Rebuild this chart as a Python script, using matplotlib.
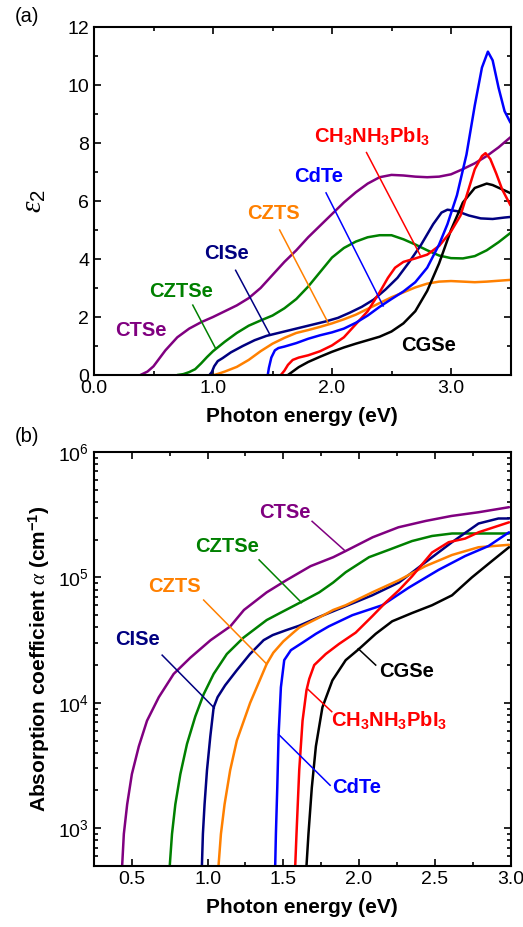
import matplotlib
matplotlib.use("Agg")
import matplotlib.pyplot as plt
from matplotlib.ticker import MultipleLocator, FormatStrFormatter, LogLocator, NullFormatter

plt.rcParams['font.family'] = ['Liberation Sans', 'DejaVu Sans']
plt.rcParams['mathtext.fontset'] = 'custom'
plt.rcParams['mathtext.rm'] = 'Liberation Sans'
plt.rcParams['mathtext.it'] = 'Liberation Serif:italic'
plt.rcParams['mathtext.bf'] = 'Liberation Sans:bold'
plt.rcParams['mathtext.default'] = 'regular'

# ---- (a) imaginary part of the dielectric function, eps2 vs photon energy (eV)
ctse_E = [0.39, 0.45, 0.5, 0.6, 0.7, 0.8, 0.9, 1.0, 1.1, 1.2, 1.3, 1.4, 1.5, 1.6, 1.7, 1.8, 1.9, 2.0,
          2.1, 2.2, 2.3, 2.4, 2.5, 2.6, 2.7, 2.8, 2.9, 3.0, 3.1, 3.2, 3.3, 3.4, 3.5]
ctse_eps = [0.0, 0.12, 0.3, 0.85, 1.3, 1.6, 1.82, 2.0, 2.2, 2.4, 2.65, 3.0, 3.45, 3.9, 4.3, 4.75, 5.15, 5.55,
            5.95, 6.3, 6.6, 6.82, 6.9, 6.88, 6.84, 6.82, 6.84, 6.92, 7.1, 7.3, 7.55, 7.85, 8.2]

cztse_E = [0.70, 0.75, 0.8, 0.85, 0.9, 0.95, 1.0, 1.1, 1.2, 1.3, 1.4, 1.5, 1.6, 1.7, 1.8, 1.9, 2.0,
           2.1, 2.2, 2.3, 2.4, 2.5, 2.6, 2.7, 2.8, 2.9, 3.0, 3.1, 3.2, 3.3, 3.4, 3.5]
cztse_eps = [0.0, 0.03, 0.1, 0.2, 0.4, 0.62, 0.82, 1.15, 1.45, 1.7, 1.88, 2.05, 2.3, 2.62, 3.05, 3.55, 4.05,
             4.38, 4.6, 4.75, 4.82, 4.82, 4.68, 4.5, 4.3, 4.12, 4.03, 4.02, 4.1, 4.3, 4.58, 4.9]

cise_E = [0.97, 0.99, 1.01, 1.04, 1.08, 1.15, 1.25, 1.35, 1.45, 1.55, 1.65, 1.75, 1.85, 1.95, 2.05, 2.15,
          2.25, 2.35, 2.45, 2.55, 2.65, 2.75, 2.85, 2.92, 2.97, 3.05, 3.15, 3.25, 3.35, 3.45, 3.5]
cise_eps = [0.0, 0.1, 0.3, 0.48, 0.58, 0.78, 1.0, 1.2, 1.35, 1.45, 1.55, 1.65, 1.75, 1.85, 1.97, 2.15,
            2.35, 2.6, 2.95, 3.35, 3.9, 4.5, 5.2, 5.6, 5.7, 5.65, 5.5, 5.4, 5.38, 5.43, 5.45]

czts_E = [1.01, 1.05, 1.1, 1.2, 1.3, 1.4, 1.5, 1.6, 1.7, 1.8, 1.9, 2.0, 2.1, 2.2, 2.3, 2.4, 2.5, 2.6,
          2.7, 2.8, 2.9, 3.0, 3.1, 3.2, 3.3, 3.4, 3.5]
czts_eps = [0.0, 0.05, 0.12, 0.28, 0.52, 0.82, 1.08, 1.28, 1.45, 1.55, 1.66, 1.78, 1.92, 2.08, 2.28, 2.48,
            2.68, 2.85, 3.02, 3.15, 3.22, 3.24, 3.22, 3.2, 3.22, 3.25, 3.28]

cdte_E = [1.46, 1.47, 1.49, 1.52, 1.55, 1.6, 1.7, 1.8, 1.9, 2.0, 2.1, 2.2, 2.3, 2.4, 2.5, 2.6, 2.7, 2.8,
          2.9, 2.97, 3.05, 3.13, 3.2, 3.26, 3.31, 3.35, 3.4, 3.45, 3.5]
cdte_eps = [0.0, 0.25, 0.6, 0.85, 0.93, 0.98, 1.1, 1.25, 1.37, 1.47, 1.6, 1.8, 2.05, 2.35, 2.62, 2.88, 3.2,
            3.7, 4.5, 5.2, 6.2, 7.6, 9.3, 10.6, 11.15, 10.85, 9.9, 9.1, 8.7]

mapi_E = [1.57, 1.6, 1.63, 1.67, 1.72, 1.8, 1.9, 2.0, 2.1, 2.2, 2.3, 2.4, 2.47, 2.53, 2.6, 2.7, 2.8, 2.9,
          3.0, 3.08, 3.14, 3.2, 3.26, 3.29, 3.33, 3.38, 3.43, 3.5]
mapi_eps = [0.0, 0.15, 0.35, 0.52, 0.6, 0.68, 0.82, 1.02, 1.3, 1.75, 2.2, 2.85, 3.35, 3.7, 3.9, 4.02, 4.15,
            4.45, 4.95, 5.5, 6.3, 7.1, 7.55, 7.65, 7.45, 6.95, 6.4, 5.85]

cgse_E = [1.63, 1.67, 1.72, 1.8, 1.9, 2.0, 2.1, 2.2, 2.3, 2.4, 2.5, 2.6, 2.7, 2.8, 2.9, 3.0, 3.1, 3.2,
          3.3, 3.35, 3.42, 3.5]
cgse_eps = [0.0, 0.12, 0.27, 0.45, 0.63, 0.8, 0.95, 1.08, 1.2, 1.32, 1.5, 1.78, 2.2, 2.9, 3.85, 5.0, 5.95,
            6.45, 6.6, 6.55, 6.42, 6.27]

# ---- (b) absorption coefficient (cm^-1) vs photon energy (eV)
ctse_aE = [0.435, 0.447, 0.469, 0.50, 0.546, 0.60, 0.678, 0.776, 0.886, 1.02, 1.15, 1.24, 1.39, 1.52,
           1.68, 1.83, 1.91, 2.09, 2.26, 2.44, 2.61, 2.79, 2.99]
ctse_alpha = [4.8e2, 9.0e2, 1.55e3, 2.7e3, 4.5e3, 7.2e3, 1.11e4, 1.70e4, 2.29e4, 3.16e4, 4.07e4, 5.5e4,
              7.6e4, 9.5e4, 1.23e5, 1.45e5, 1.62e5, 2.09e5, 2.51e5, 2.82e5, 3.09e5, 3.31e5, 3.63e5]

cztse_aE = [0.749, 0.765, 0.787, 0.82, 0.864, 0.919, 0.974, 1.04, 1.127, 1.237, 1.39, 1.478, 1.632,
            1.737, 1.829, 1.912, 2.066, 2.197, 2.35, 2.482, 2.614, 2.79, 2.99]
cztse_alpha = [4.8e2, 9.0e2, 1.55e3, 2.7e3, 4.7e3, 7.8e3, 1.17e4, 1.70e4, 2.45e4, 3.31e4, 4.57e4, 5.2e4,
               6.5e4, 7.6e4, 9.1e4, 1.10e5, 1.45e5, 1.66e5, 1.95e5, 2.14e5, 2.24e5, 2.24e5, 2.24e5]

cise_aE = [0.962, 0.969, 0.98, 0.996, 1.018, 1.04, 1.066, 1.116, 1.193, 1.28, 1.37, 1.43, 1.52, 1.605,
           1.737, 1.912, 2.087, 2.263, 2.438, 2.614, 2.789, 2.92, 2.99]
cise_alpha = [4.8e2, 9.0e2, 1.55e3, 2.9e3, 5.4e3, 9.2e3, 1.11e4, 1.38e4, 1.82e4, 2.45e4, 3.16e4, 3.47e4,
              3.8e4, 4.12e4, 4.84e4, 5.9e4, 7.2e4, 9.1e4, 1.32e5, 1.91e5, 2.69e5, 2.95e5, 2.95e5]

czts_aE = [1.071, 1.088, 1.112, 1.149, 1.193, 1.281, 1.39, 1.434, 1.50, 1.566, 1.605, 1.737, 1.829,
           1.912, 2.087, 2.263, 2.438, 2.614, 2.789, 2.99]
czts_alpha = [4.8e2, 9.0e2, 1.55e3, 2.9e3, 5.0e3, 1.0e4, 2.04e4, 2.51e4, 3.09e4, 3.63e4, 3.98e4, 4.79e4,
              5.5e4, 6.0e4, 7.6e4, 9.5e4, 1.23e5, 1.51e5, 1.74e5, 1.82e5]

cdte_aE = [1.446, 1.451, 1.46, 1.469, 1.484, 1.506, 1.55, 1.627, 1.715, 1.80, 1.956, 2.153, 2.329, 2.526,
           2.70, 2.855, 2.99]
cdte_alpha = [4.8e2, 9.0e2, 2.1e3, 5.6e3, 1.33e4, 2.19e4, 2.63e4, 3.02e4, 3.55e4, 4.07e4, 5.0e4, 6.0e4,
              8.3e4, 1.15e5, 1.48e5, 1.78e5, 2.29e5]

mapi_aE = [1.578, 1.587, 1.605, 1.627, 1.653, 1.671, 1.704, 1.78, 1.868, 1.978, 2.087, 2.175, 2.263,
           2.35, 2.482, 2.592, 2.70, 2.789, 2.99]
mapi_alpha = [4.8e2, 9.0e2, 2.9e3, 7.2e3, 1.26e4, 1.55e4, 2.0e4, 2.45e4, 2.95e4, 3.63e4, 4.9e4, 6.3e4,
              7.9e4, 1.02e5, 1.58e5, 1.91e5, 2.04e5, 2.29e5, 2.75e5]

cgse_aE = [1.652, 1.666, 1.688, 1.715, 1.758, 1.824, 1.912, 2.0, 2.11, 2.219, 2.35, 2.482, 2.614, 2.745,
           2.877, 2.99]
cgse_alpha = [4.8e2, 9.0e2, 2.1e3, 4.5e3, 9.2e3, 1.51e4, 2.19e4, 2.69e4, 3.55e4, 4.47e4, 5.2e4, 6.0e4,
              7.2e4, 1.0e5, 1.35e5, 1.74e5]

c_ctse, c_cztse, c_cise, c_czts = '#800080', '#008000', '#000080', '#ff8000'
c_cdte, c_mapi, c_cgse = '#0000ff', '#ff0000', '#000000'
mapi_name = r'CH$_3$NH$_3$PbI$_3$'

fig = plt.figure(figsize=(5.23, 9.27), dpi=100)
W, H = 523.0, 927.0
ax1 = fig.add_axes([94 / W, 1 - 375 / H, 416.5 / W, 348 / H])
ax2 = fig.add_axes([94 / W, 1 - 866 / H, 416.5 / W, 414 / H])

lw = 1.8
lead = 1.1
lab_fs = 14.5
tick_fs = 14
ax_fs = 15

# panel (a)
for E, e2, c in [(ctse_E, ctse_eps, c_ctse), (cztse_E, cztse_eps, c_cztse),
                 (czts_E, czts_eps, c_czts), (cise_E, cise_eps, c_cise),
                 (cgse_E, cgse_eps, c_cgse), (mapi_E, mapi_eps, c_mapi),
                 (cdte_E, cdte_eps, c_cdte)]:
    ax1.plot(E, e2, color=c, lw=lw, solid_capstyle='round')

ax1.set_xlim(0, 3.5)
ax1.set_ylim(0, 12)
ax1.xaxis.set_major_locator(MultipleLocator(1.0))
ax1.xaxis.set_minor_locator(MultipleLocator(0.5))
ax1.xaxis.set_major_formatter(FormatStrFormatter('%.1f'))
ax1.yaxis.set_major_locator(MultipleLocator(2))
ax1.yaxis.set_minor_locator(MultipleLocator(1))

labels_a = [
    ('CTSe', c_ctse, 0.39, 1.55, None),
    ('CZTSe', c_cztse, 0.73, 2.87, (0.83, 2.41, 1.02, 0.93)),
    ('CISe', c_cise, 1.115, 4.20, (1.19, 3.61, 1.48, 1.38)),
    ('CZTS', c_czts, 1.51, 5.58, (1.56, 5.0, 1.97, 1.78)),
    ('CdTe', c_cdte, 1.885, 6.84, (1.95, 6.28, 2.43, 2.38)),
    (mapi_name, c_mapi, 2.34, 8.2, (2.29, 7.67, 2.74, 4.14)),
    ('CGSe', c_cgse, 2.81, 1.03, None),
]
for txt, c, x, y, ln in labels_a:
    ax1.text(x, y, txt, color=c, fontsize=lab_fs, fontweight='bold', ha='center', va='center')
    if ln:
        ax1.plot([ln[0], ln[2]], [ln[1], ln[3]], color=c, lw=lead)

ax1.set_xlabel('Photon energy (eV)', fontsize=ax_fs, fontweight='bold', labelpad=7)
ax1.set_ylabel(r'$\mathit{\varepsilon}_2$', fontsize=21)
ax1.yaxis.set_label_coords(-0.11, 0.5)

# panel (b)
for E, a, c in [(ctse_aE, ctse_alpha, c_ctse), (cztse_aE, cztse_alpha, c_cztse),
                (cise_aE, cise_alpha, c_cise), (czts_aE, czts_alpha, c_czts),
                (cdte_aE, cdte_alpha, c_cdte), (mapi_aE, mapi_alpha, c_mapi),
                (cgse_aE, cgse_alpha, c_cgse)]:
    ax2.plot(E, a, color=c, lw=lw, solid_capstyle='round')

ax2.set_yscale('log')
ax2.set_xlim(0.25, 3.0)
ax2.set_ylim(5e2, 1e6)
ax2.xaxis.set_major_locator(MultipleLocator(0.5))
ax2.xaxis.set_minor_locator(MultipleLocator(0.25))
ax2.xaxis.set_major_formatter(FormatStrFormatter('%.1f'))
ax2.yaxis.set_major_locator(LogLocator(base=10, numticks=10))
ax2.yaxis.set_minor_locator(LogLocator(base=10, subs=range(2, 10), numticks=20))
ax2.yaxis.set_minor_formatter(NullFormatter())

labels_b = [
    ('CTSe', c_ctse, 1.51, 3.3e5, (1.69, 2.8e5, 1.91, 1.62e5)),
    ('CZTSe', c_cztse, 1.13, 1.78e5, (1.34, 1.38e5, 1.62, 6.3e4)),
    ('CZTS', c_czts, 0.78, 8.4e4, (0.974, 6.6e4, 1.39, 2.04e4)),
    ('CISe', c_cise, 0.535, 3.2e4, (0.70, 2.4e4, 1.044, 9.1e3)),
    ('CGSe', c_cgse, 2.316, 1.78e4, (1.995, 2.7e4, 2.11, 2.0e4)),
    (mapi_name, c_mapi, 2.20, 7.2e3, (1.66, 1.29e4, 1.82, 8.5e3)),
    ('CdTe', c_cdte, 1.982, 2.1e3, (1.469, 5.6e3, 1.809, 2.2e3)),
]
for txt, c, x, y, ln in labels_b:
    ax2.text(x, y, txt, color=c, fontsize=lab_fs, fontweight='bold', ha='center', va='center')
    ax2.plot([ln[0], ln[2]], [ln[1], ln[3]], color=c, lw=lead)

ax2.set_xlabel('Photon energy (eV)', fontsize=ax_fs, fontweight='bold', labelpad=7)
ax2.set_ylabel(r'Absorption coefficient $\mathit{\alpha}$ (cm$^{-1}$)', fontsize=ax_fs, fontweight='bold')
ax2.yaxis.set_label_coords(-0.1, 0.5)

for ax in (ax1, ax2):
    for s in ax.spines.values():
        s.set_linewidth(1.5)
    ax.tick_params(which='both', direction='in', top=True, right=True, labelsize=tick_fs, width=1.2)
    ax.tick_params(which='major', length=5)
    ax.tick_params(which='minor', length=3)

fig.text(27 / W, 1 - 17 / H, '(a)', fontsize=lab_fs, ha='center', va='center')
fig.text(27 / W, 1 - 437 / H, '(b)', fontsize=lab_fs, ha='center', va='center')

fig.savefig('out.png', dpi=100)
